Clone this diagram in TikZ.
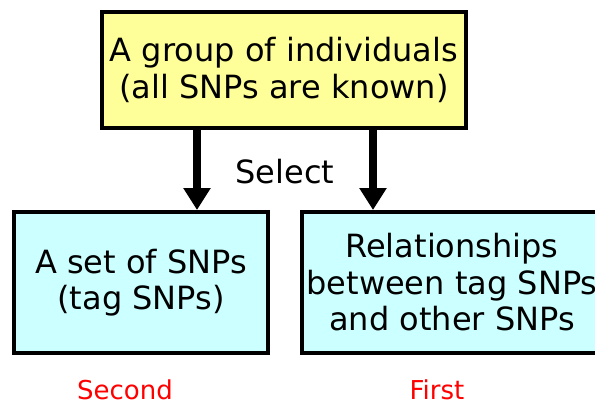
\documentclass[tikz,border=0pt]{standalone}
\usepackage{fontspec}
\setmainfont{DejaVu Sans}
\usetikzlibrary{arrows.meta}
\definecolor{boxyellow}{HTML}{FFFF99}
\definecolor{boxcyan}{HTML}{CCFFFF}
\begin{document}
\begin{tikzpicture}[x=1pt,y=-1pt,
  box/.style={draw=black, line width=4pt, rectangle, inner sep=0pt, align=center,
    font=\fontsize{32}{36.5}\selectfont},
  flow/.style={line width=8pt, -{Triangle[width=26pt,length=22pt]}},
  note/.style={text=red, font=\fontsize{26}{30}\selectfont, anchor=base}]
  \useasboundingbox (0,0) rectangle (595,405);
  \clip (0,0) rectangle (595,405);
  % source population
  \node[box, fill=boxyellow, minimum width=364pt, minimum height=116pt]
    (top) at (284,70) {A group of individuals\\(all SNPs are known)};
  % results of the selection
  \node[box, fill=boxcyan, minimum width=254pt, minimum height=141pt]
    (left) at (141,282.5) {A set of SNPs\\(tag SNPs)};
  \node[box, fill=boxcyan, minimum width=300pt, minimum height=141pt]
    (right) at (452,282.5) {Relationships\\between tag SNPs\\and other SNPs};
  % selection arrows
  \draw[flow] ([xshift=-87pt]top.south) -- ([xshift=-87pt]top.south |- left.north);
  \draw[flow] ([xshift=89pt]top.south) -- ([xshift=89pt]top.south |- right.north);
  \node[font=\fontsize{32}{36}\selectfont] (select) at (285,172) {Select};
  % order labels
  \node[note] (second) at (125,399) {Second};
  \node[note] (first) at (437,399) {First};
\end{tikzpicture}
\end{document}
